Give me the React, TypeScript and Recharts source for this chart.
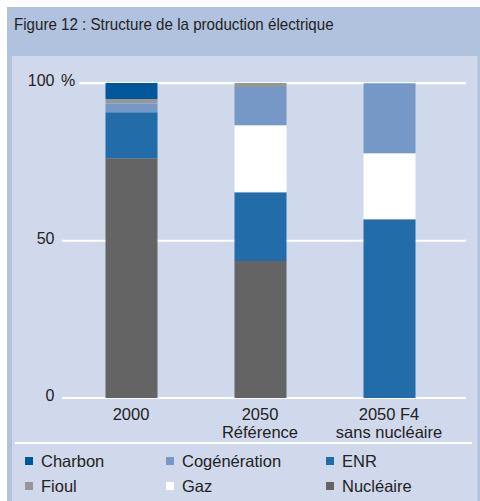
import React from "react";
import { Bar, BarChart, CartesianGrid, XAxis, YAxis } from "recharts";

const categories = ["2000", "2050\nRéférence", "2050 F4\nsans nucléaire"];

// stacked bottom -> top
const nucleaire = [76.2, 43.5, 0];
const enr = [14.6, 21.9, 56.8];
const gaz = [0, 21.3, 21];
const cogeneration = [2.8, 12.1, 22.2];
const fioul = [1.4, 1.3, 0];
const charbon = [5.1, 0, 0];

const yTicks = [0, 50, 100];

const SERIES = [
  { key: "Nucléaire", values: nucleaire, color: "#646464" },
  { key: "ENR", values: enr, color: "#216ca9" },
  { key: "Gaz", values: gaz, color: "#ffffff" },
  { key: "Cogénération", values: cogeneration, color: "#7598c6" },
  { key: "Fioul", values: fioul, color: "#979797" },
  { key: "Charbon", values: charbon, color: "#00589b" },
];

const LEGEND_ORDER = ["Charbon", "Cogénération", "ENR", "Fioul", "Gaz", "Nucléaire"];

const FONT = "'Liberation Sans', Arial, Helvetica, sans-serif";

const data = categories.map((name, i) => {
  const row: Record<string, string | number> = { name };
  SERIES.forEach(s => {
    row[s.key] = s.values[i];
  });
  return row;
});

function XTick({ x, y, payload }: any) {
  const lines = String(payload.value).split("\n");
  return (
    <text x={x} y={y} textAnchor="middle" fill="#222" fontSize={16.5} fontFamily={FONT}>
      {lines.map((l, i) => (
        <tspan key={i} x={x} dy={i === 0 ? 14 : 18}>
          {l}
        </tspan>
      ))}
    </text>
  );
}

function YTick({ y, payload }: any) {
  return (
    <g>
      <text x={54.5} y={y} dy={3} textAnchor="end" fill="#222" fontSize={16} fontFamily={FONT}>
        {payload.value}
      </text>
      {payload.value === 100 && (
        <text x={61} y={y} dy={3} fill="#222" fontSize={16} fontFamily={FONT}>
          %
        </text>
      )}
    </g>
  );
}

function GridLine(p: any) {
  const top = Math.abs(p.y1 - 83) < 1;
  return (
    <line
      key={p.key}
      x1={top ? 79 : p.x1 - 4.5}
      x2={p.x2 + 12.5}
      y1={p.y1}
      y2={p.y2}
      stroke="#ffffff"
      strokeWidth={2}
    />
  );
}

export default function App() {
  return (
    <div
      style={{
        position: "absolute",
        left: 0,
        top: 0,
        width: 480,
        height: 501,
        background: "#ffffff",
        fontFamily: FONT,
        overflow: "hidden",
      }}
    >
      <div style={{ position: "absolute", left: 7, top: 7, width: 473, height: 494, background: "#b1c2df" }} />
      <div
        style={{
          position: "absolute",
          left: 14,
          top: 15,
          fontFamily: FONT,
          fontSize: 17,
          color: "#222",
          whiteSpace: "nowrap",
          transform: "scaleX(0.89)",
          transformOrigin: "left center",
        }}
      >
        Figure 12 : Structure de la production électrique
      </div>
      <div
        style={{
          position: "absolute",
          left: 12,
          top: 56,
          width: 465,
          height: 445,
          background: "#d0d9eb",
          borderRight: "1px solid #bfcbe3",
        }}
      />
      <div style={{ position: "absolute", left: 0, top: 0 }}>
        <BarChart
          width={480}
          height={501}
          data={data}
          margin={{ top: 83, right: 26.5, left: 0, bottom: 0 }}
          barSize={52}
        >
          <CartesianGrid vertical={false} horizontal={GridLine} />
          <XAxis
            dataKey="name"
            height={103}
            axisLine={false}
            tickLine={false}
            tick={<XTick />}
            interval={0}
          />
          <YAxis
            width={66.5}
            domain={[0, 100]}
            ticks={yTicks}
            axisLine={false}
            tickLine={false}
            tick={<YTick />}
          />
          {SERIES.map(s => (
            <Bar key={s.key} dataKey={s.key} stackId="a" fill={s.color} isAnimationActive={false} />
          ))}
        </BarChart>
      </div>
      <div style={{ position: "absolute", left: 15, top: 442, width: 457, height: 2, background: "#ffffff" }} />
      <div
        style={{
          position: "absolute",
          left: 25,
          top: 451,
          display: "grid",
          gridTemplateColumns: "141px 160px 140px",
          rowGap: 5,
          fontSize: 16.5,
          color: "#222",
        }}
      >
        {LEGEND_ORDER.map(name => {
          const s = SERIES.find(x => x.key === name)!;
          return (
            <div key={name} style={{ display: "flex", alignItems: "center", height: 20 }}>
              <span style={{ width: 8, height: 8, background: s.color, marginRight: 8, display: "inline-block" }} />
              {name}
            </div>
          );
        })}
      </div>
    </div>
  );
}
